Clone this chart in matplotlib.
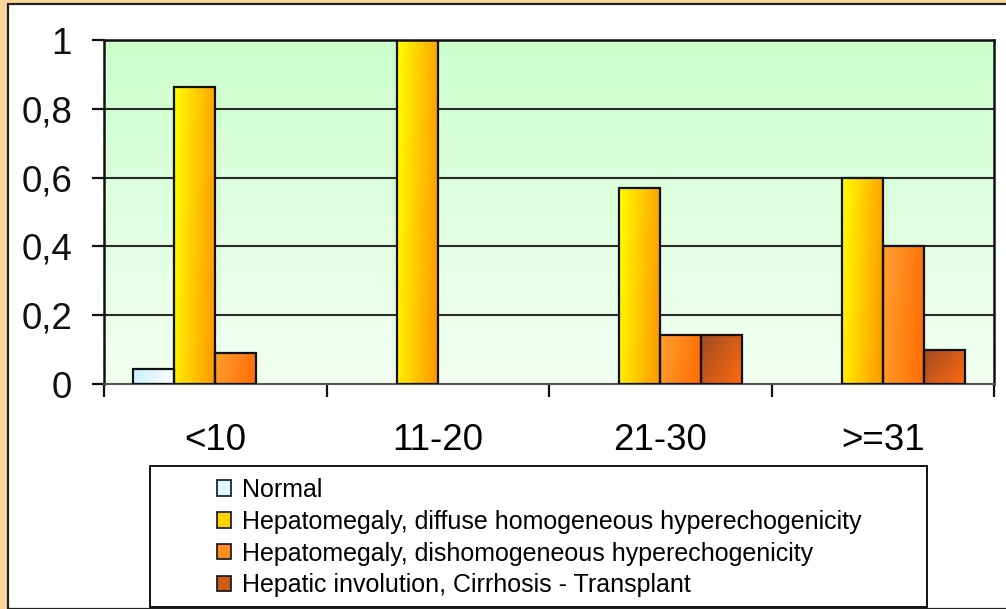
import numpy as np
import matplotlib
matplotlib.use("Agg")
import matplotlib.pyplot as plt
from matplotlib.colors import to_rgb
from matplotlib.patches import Rectangle, Patch

plt.rcParams['font.family'] = ['Liberation Sans', 'DejaVu Sans']

# Data
categories = ["<10", "11-20", "21-30", ">=31"]
series_names = [
    "Normal",
    "Hepatomegaly, diffuse homogeneous hyperechogenicity",
    "Hepatomegaly, dishomogeneous hyperechogenicity",
    "Hepatic involution, Cirrhosis - Transplant",
]
normal = [0.045, 0.0, 0.0, 0.0]
diffuse = [0.864, 1.0, 0.571, 0.6]
dishomogeneous = [0.091, 0.0, 0.143, 0.4]
cirrhosis = [0.0, 0.0, 0.143, 0.1]
yticks = [0, 0.2, 0.4, 0.6, 0.8, 1]
ytick_labels = ["0", "0,2", "0,4", "0,6", "0,8", "1"]

series = [normal, diffuse, dishomogeneous, cirrhosis]
# gradient colour pairs (start, end) for each series
gradients = [
    ("#C8F0FF", "#FFFFFF"),
    ("#FFFF00", "#FF9400"),
    ("#FFA030", "#FF6A00"),
    ("#A04A22", "#FF6C10"),
]
legend_colors = ["#E0F8FF", "#FFD000", "#FF8C20", "#D05A1A"]

W, H = 1006, 609
fig = plt.figure(figsize=(W / 100, H / 100), dpi=100)
fig.patch.set_facecolor("#FDD79A")

# white inner panel
panel = Rectangle((8 / W, 0), 1.0, 1 - 4 / H, transform=fig.transFigure,
                  facecolor="white", edgecolor="#222222", linewidth=1.6, zorder=0)
fig.add_artist(panel)

ax = fig.add_axes([104 / W, 1 - 384 / H, (994 - 104) / W, (384 - 40) / H])
ax.set_facecolor("none")

# green vertical gradient background of the plot area
ny = 256
v = np.linspace(0, 1, ny)[:, None]
top = np.array(to_rgb("#CCFFCC"))
bot = np.array(to_rgb("#F2FFF2"))
bg = (1 - v)[..., None] * top + v[..., None] * bot
bg = np.repeat(bg, 2, axis=1)
ax.imshow(bg, extent=(0, 1, 0, 1), transform=ax.transAxes, aspect="auto",
          zorder=0, interpolation="bilinear")

# grid lines
for yv in yticks[1:]:
    ax.axhline(yv, color="#2A2A2A", linewidth=1.5, zorder=1)

n_groups = len(categories)
n_series = len(series)
bar_w = 41 / 222
margin = (1 - n_series * bar_w) / 2
x_base = np.arange(n_groups)

nx = 64
uu, vv = np.meshgrid(np.linspace(0, 1, nx), np.linspace(0, 1, nx))
for s, (vals, (c0, c1)) in enumerate(zip(series, gradients)):
    xs = x_base + margin + s * bar_w
    widths = [1.6 if v_ > 0 else 0 for v_ in vals]
    bars = ax.bar(xs, vals, width=bar_w, align="edge", facecolor="none",
                  edgecolor="#111111", linewidth=widths, zorder=3)
    a = np.array(to_rgb(c0))
    b = np.array(to_rgb(c1))
    if s == 3:
        t = 0.6 * uu + 0.4 * vv
    else:
        t = 0.85 * uu + 0.15 * vv
    img = (1 - t)[..., None] * a + t[..., None] * b
    for bar, val in zip(bars, vals):
        if val <= 0:
            continue
        x0 = bar.get_x()
        im = ax.imshow(img, extent=(x0, x0 + bar_w, 0, val), origin="upper",
                       aspect="auto", zorder=2, interpolation="bilinear")
        im.set_clip_path(bar)

ax.set_xlim(0, n_groups)
ax.set_ylim(0, 1)
ax.set_aspect("auto")

# axes styling
for side in ["left", "top", "right"]:
    ax.spines[side].set_color("#111111")
    ax.spines[side].set_linewidth(1.8)
ax.spines["bottom"].set_color("#555555")
ax.spines["bottom"].set_linewidth(1.5)

ax.set_yticks(yticks)
ax.set_yticklabels(ytick_labels, fontsize=26.5)
ax.tick_params(axis="y", direction="out", length=9, width=1.6, pad=14, colors="#111111")

ax.set_xticks(np.arange(n_groups + 1))
ax.set_xticklabels([])
ax.tick_params(axis="x", which="major", direction="out", length=9, width=1.6, colors="#111111")
ax.set_xticks(x_base + 0.5, minor=True)
ax.set_xticklabels(categories, minor=True, fontsize=26.5)
ax.tick_params(axis="x", which="minor", length=0, pad=28)

# legend box
lx0, lx1, ly0, ly1 = 150, 927, 466, 607
fig.add_artist(Rectangle((lx0 / W, 1 - ly1 / H), (lx1 - lx0) / W, (ly1 - ly0) / H,
                         transform=fig.transFigure, facecolor="white",
                         edgecolor="#111111", linewidth=1.4, zorder=1))
handles = [Patch(facecolor=c, edgecolor="#111111", linewidth=1.2) for c in legend_colors]
leg = fig.legend(handles, series_names, loc="upper left",
                 bbox_to_anchor=(204 / W, 1 - 465.5 / H), frameon=False,
                 fontsize=18, handlelength=0.58, handleheight=0.58,
                 handletextpad=0.45, labelspacing=0.31, borderpad=0.0)
leg.set_zorder(2)

fig.savefig("out.png", dpi=100)
